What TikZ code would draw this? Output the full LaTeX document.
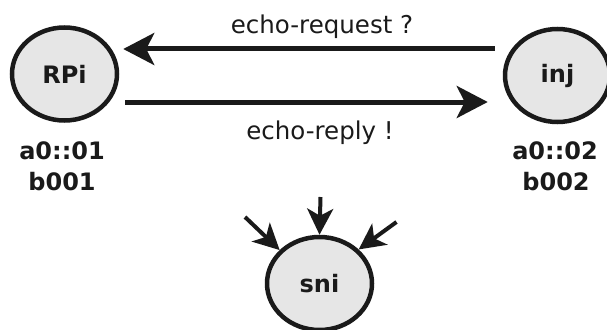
\documentclass[tikz,border=0pt]{standalone}
\usepackage{fontspec}
\setmainfont{DejaVu Sans}
\usetikzlibrary{shapes.geometric,arrows.meta}
\definecolor{ink}{HTML}{1A1A1A}
\definecolor{stfill}{HTML}{E6E6E6}
\tikzset{
  state/.style={ellipse, draw=ink, fill=stfill, line width=4.5pt, minimum width=105pt, minimum height=93pt, inner sep=0pt, text=ink, font=\fontsize{24}{28}\selectfont\bfseries},
  addr/.style={anchor=base, text=ink, inner sep=0pt, font=\fontsize{24}{28}\selectfont\bfseries},
  msg/.style={anchor=base, text=ink, inner sep=0pt, font=\fontsize{24.5}{28}\selectfont},
  bigarrow/.style={draw=ink, line width=5pt, -{Stealth[length=31pt,width=32pt,inset=8pt]}},
  smallarrow/.style={draw=ink, line width=4pt, -{Stealth[length=26pt,width=26pt,inset=7pt]}},
}
\begin{document}
\begin{tikzpicture}[x=1pt,y=-1pt]
\useasboundingbox (0,0) rectangle (607,329);
\node[state] (RPi) at (64.5,74) {RPi};
\node[state] (inj) at (557.5,75.5) {inj};
\node[state] (sni) at (319.5,283.5) {sni};
\node[addr] (a1) at (62,159) {a0::01};
\node[addr] (b1) at (62,190) {b001};
\node[addr] (a2) at (555,159) {a0::02};
\node[addr] (b2) at (556,190) {b002};
\node[msg] (req) at (322,34) {echo-request ?};
\node[msg] (rep) at (320,139) {echo-reply !};
\draw[bigarrow] ([xshift=-8pt]inj.west |- 0,49) -- ([xshift=4pt]RPi.east |- 0,49);
\draw[bigarrow] ([xshift=6pt]RPi.east |- 0,102) -- ([xshift=-15pt]inj.west |- 0,102);
\coordinate (s1) at (245,217);
\coordinate (s2) at (320.5,197);
\coordinate (s3) at (396.5,222);
\draw[smallarrow] (s1) -- (sni.140);
\draw[smallarrow] (s2) -- (sni.north);
\draw[smallarrow] (s3) -- (sni.41);
\end{tikzpicture}
\end{document}
